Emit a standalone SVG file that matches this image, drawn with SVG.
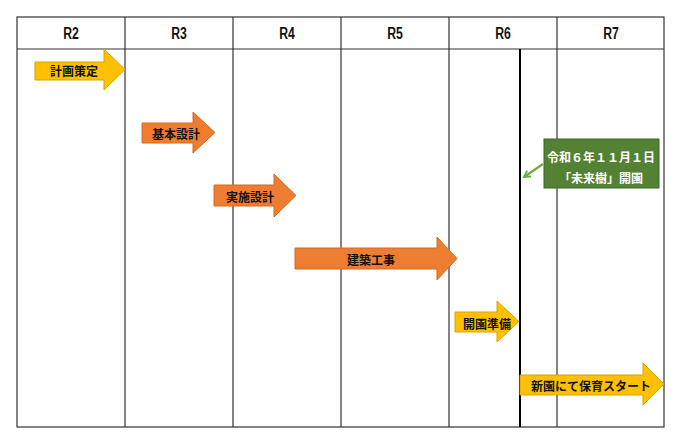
<svg xmlns="http://www.w3.org/2000/svg" width="681" height="448" viewBox="0 0 681 448">
<defs>
<style>
.grid{stroke:#333;stroke-width:1.2;fill:none}
.hdr{font-family:"Liberation Sans",sans-serif;font-weight:bold;font-size:17px;fill:#111;text-anchor:middle}
.lbl{font-family:"Noto Sans CJK JP","Noto Sans",sans-serif;font-weight:bold;font-size:12px;fill:#111;text-anchor:middle;dominant-baseline:central}
.yel{fill:#FFC000;stroke:#D9A400;stroke-width:1}
.org{fill:#ED7D31;stroke:#D46A22;stroke-width:1}
.note{font-family:"Noto Sans CJK JP","Noto Sans",sans-serif;font-weight:bold;font-size:12px;fill:#fff;text-anchor:middle}
</style>
<marker id="ga" viewBox="0 0 10 10" refX="8" refY="5" markerWidth="4" markerHeight="4" orient="auto">
<path d="M1,1 L8,5 L1,9" fill="none" stroke="#70AD47" stroke-width="2.2"/>
</marker>
</defs>
<rect width="681" height="448" fill="#fff"/>
<g id="table">
<rect class="grid" x="17" y="17" width="647" height="410"/>
<line class="grid" x1="17" y1="49" x2="664" y2="49"/>
<line class="grid" x1="125" y1="17" x2="125" y2="427"/>
<line class="grid" x1="233" y1="17" x2="233" y2="427"/>
<line class="grid" x1="341" y1="17" x2="341" y2="427"/>
<line class="grid" x1="449" y1="17" x2="449" y2="427"/>
<line class="grid" x1="557" y1="17" x2="557" y2="427"/>
<text class="hdr" transform="translate(71,39) scale(0.72,1)">R2</text>
<text class="hdr" transform="translate(179,39) scale(0.72,1)">R3</text>
<text class="hdr" transform="translate(287,39) scale(0.72,1)">R4</text>
<text class="hdr" transform="translate(395,39) scale(0.72,1)">R5</text>
<text class="hdr" transform="translate(503,39) scale(0.72,1)">R6</text>
<text class="hdr" transform="translate(611,39) scale(0.72,1)">R7</text>
</g>
<g id="marker-line">
<line x1="520" y1="49" x2="520" y2="427" stroke="#000" stroke-width="2"/>
</g>
<g id="a1">
<polygon class="yel" points="35,62 104,62 104,49 125,69.5 104,90 104,80 35,80"/>
<text class="lbl" x="74" y="70">計画策定</text>
</g>
<g id="a2">
<polygon class="org" points="142,123 193,123 193,112 215,132.5 193,153 193,143 142,143"/>
<text class="lbl" x="176" y="133">基本設計</text>
</g>
<g id="a3">
<polygon class="org" points="214,185 274,185 274,174 296,195.5 274,217 274,206 214,206"/>
<text class="lbl" x="250" y="196">実施設計</text>
</g>
<g id="a4">
<polygon class="org" points="295,248 437,248 437,237 457,258.5 437,280 437,269 295,269"/>
<text class="lbl" x="371" y="259">建築工事</text>
</g>
<g id="a5">
<polygon class="yel" points="455,312 497,312 497,301 519,321.5 497,342 497,332 455,332"/>
<text class="lbl" x="487" y="323">開園準備</text>
</g>
<g id="a6">
<polygon class="yel" points="520,375 643,375 643,363 664,384 643,405 643,395 520,395"/>
<text class="lbl" x="591" y="385">新園にて保育スタート</text>
</g>
<g id="note">
<rect x="544" y="139" width="115" height="49" fill="#548235" stroke="#3E6428" stroke-width="1"/>
<text class="note" x="601" y="162">令和６年１１月１日</text>
<text class="note" x="601" y="183">「未来樹」開園</text>
</g>
<g id="connectors">
<line x1="543" y1="164" x2="524" y2="177" stroke="#70AD47" stroke-width="2.2" marker-end="url(#ga)"/>
</g>
</svg>
